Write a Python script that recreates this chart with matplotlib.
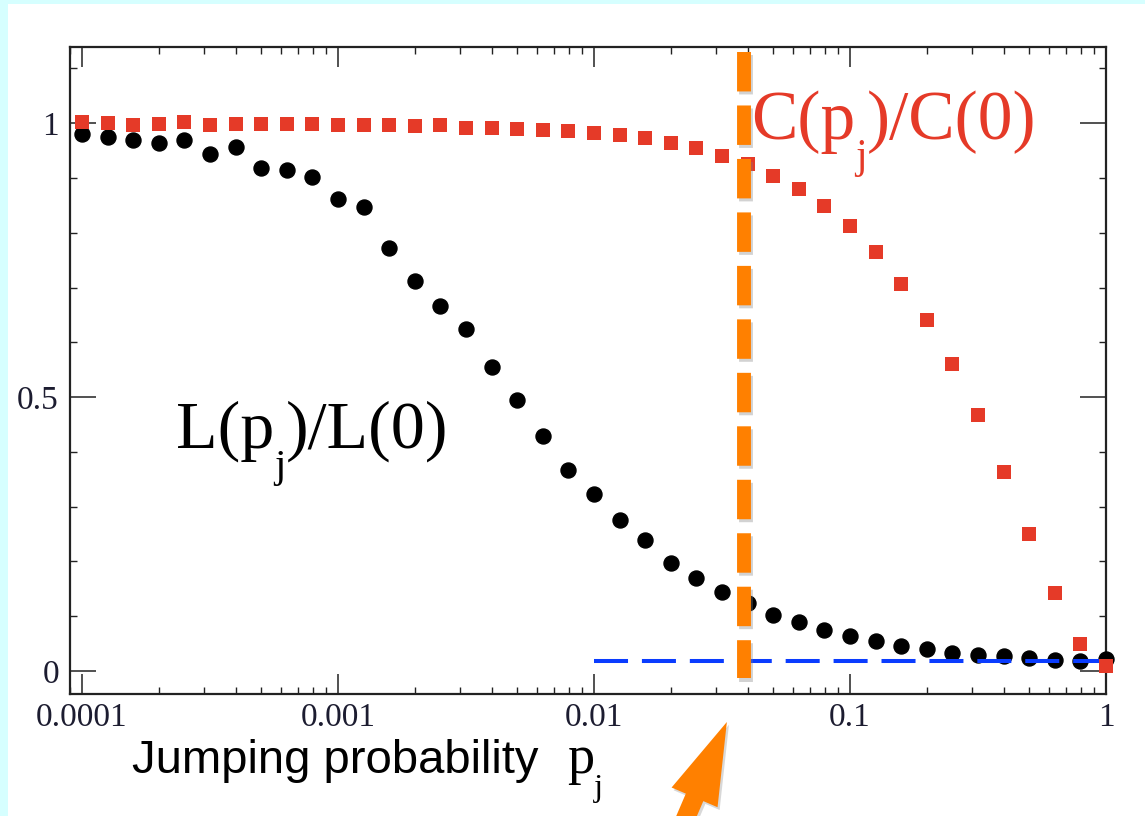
import matplotlib
matplotlib.use("Agg")
import matplotlib.pyplot as plt
from matplotlib.ticker import FixedLocator, MultipleLocator, FixedFormatter, NullFormatter, LogLocator
from matplotlib.patches import Rectangle, FancyArrow
from matplotlib.transforms import IdentityTransform
import matplotlib.patheffects as pe

plt.rcParams["lines.scale_dashes"] = False

# jumping probability p_j (ten points per decade)
p_j = [1.00e-4, 1.26e-4, 1.58e-4, 2.00e-4, 2.51e-4, 3.16e-4, 3.98e-4, 5.01e-4, 6.31e-4, 7.94e-4,
       1.00e-3, 1.26e-3, 1.58e-3, 2.00e-3, 2.51e-3, 3.16e-3, 3.98e-3, 5.01e-3, 6.31e-3, 7.94e-3,
       1.00e-2, 1.26e-2, 1.58e-2, 2.00e-2, 2.51e-2, 3.16e-2, 3.98e-2, 5.01e-2, 6.31e-2, 7.94e-2,
       1.00e-1, 1.26e-1, 1.58e-1, 2.00e-1, 2.51e-1, 3.16e-1, 3.98e-1, 5.01e-1, 6.31e-1, 7.94e-1,
       1.00]

# normalised path length L(p_j)/L(0)
L_ratio = [0.981, 0.975, 0.970, 0.964, 0.970, 0.943, 0.956, 0.918, 0.914, 0.901,
           0.861, 0.847, 0.772, 0.711, 0.666, 0.624, 0.554, 0.494, 0.429, 0.366,
           0.323, 0.276, 0.240, 0.198, 0.169, 0.144, 0.125, 0.102, 0.090, 0.075,
           0.064, 0.055, 0.046, 0.040, 0.033, 0.030, 0.027, 0.023, 0.020, 0.019,
           0.021]

# normalised clustering C(p_j)/C(0)
C_ratio = [1.002, 1.000, 0.996, 0.999, 1.002, 0.997, 0.999, 0.999, 0.999, 0.998,
           0.996, 0.996, 0.996, 0.995, 0.996, 0.992, 0.992, 0.990, 0.987, 0.986,
           0.982, 0.978, 0.972, 0.963, 0.954, 0.940, 0.925, 0.903, 0.879, 0.849,
           0.812, 0.764, 0.707, 0.641, 0.561, 0.467, 0.364, 0.250, 0.142, 0.049,
           0.009]

# random-graph reference level and the marked crossover probability
random_level_x = [0.01, 1.0]
random_level_y = [0.018, 0.018]
p_cut = 0.0385

x_ticks = [1e-4, 1e-3, 1e-2, 1e-1, 1.0]
x_tick_labels = ["0.0001", "0.001", "0.01", "0.1", "1"]
y_ticks = [0.0, 0.5, 1.0]
y_tick_labels = ["0", "0.5", "1"]

W, H = 1145, 816
fig = plt.figure(figsize=(W / 100, H / 100), dpi=100, facecolor="#d6ffff")
fig.patches.append(Rectangle((8 / W, 0), 1 - 8 / W, 1 - 4 / H, transform=fig.transFigure,
                             facecolor="white", edgecolor="none", zorder=-10))

ax = fig.add_axes([70 / W, 1 - 694 / H, (1106 - 70) / W, (694 - 47) / H])
ax.set_facecolor("white")
ax.set_xscale("log")
ax.set_xlim(8.98e-5, 1.0)
ax.set_ylim(-0.042, 1.139)

ax.plot(p_j, L_ratio, linestyle="none", marker="o", markersize=10.8,
        color="black", zorder=3, clip_on=False)
ax.plot(random_level_x, random_level_y, color="#0a3cff", linewidth=2.9,
        dashes=(24.5, 10), solid_capstyle="butt", dash_capstyle="butt", zorder=4)
ax.plot(p_j, C_ratio, linestyle="none", marker="s", markersize=9.6,
        color="#e53a28", markeredgewidth=0, zorder=5, clip_on=False)

# vertical marker of the crossover probability
ax.plot([p_cut, p_cut], [1.130, -0.013], color="#ff8000", linewidth=10,
        dashes=(28.4, 10.1), dash_capstyle="butt", zorder=6, clip_on=False,
        path_effects=[pe.SimpleLineShadow(offset=(1.5, -2.5), shadow_color="#808080", alpha=0.35),
                      pe.Normal()])

# axis styling
serif = "Liberation Serif"
for s in ax.spines.values():
    s.set_linewidth(1.6)
    s.set_color("#222222")
ax.xaxis.set_major_locator(FixedLocator(x_ticks))
ax.xaxis.set_major_formatter(FixedFormatter(x_tick_labels))
ax.xaxis.set_minor_locator(LogLocator(base=10, subs=[2, 3, 4, 5, 6, 7, 8, 9], numticks=20))
ax.xaxis.set_minor_formatter(NullFormatter())
ax.yaxis.set_major_locator(FixedLocator(y_ticks))
ax.yaxis.set_major_formatter(FixedFormatter(y_tick_labels))
ax.yaxis.set_minor_locator(MultipleLocator(0.1))
ax.tick_params(which="both", direction="in", top=True, right=True, color="#222222")
ax.tick_params(axis="x", which="major", length=14.5, width=1.1, pad=6)
ax.tick_params(axis="y", which="major", length=18.5, width=1.1, pad=8)
ax.tick_params(which="minor", length=5, width=1.0)
for lab in ax.get_xticklabels() + ax.get_yticklabels():
    lab.set_fontfamily(serif)
    lab.set_fontsize(24)
    lab.set_color("#1c1c30")

renderer = fig.canvas.get_renderer()


def subscripted(x_px, base_px, head, sub, tail, size, color, drop=0.42, sub_scale=0.6):
    """Write head + lowered subscript + tail, positioned in pixels from the top-left."""
    y = H - base_px
    t1 = fig.text(x_px / W, y / H, head, family=serif, fontsize=size, color=color,
                  ha="left", va="baseline", zorder=7)
    x = t1.get_window_extent(renderer).x1
    drop_px = drop * size * 100 / 72
    t2 = fig.text(x / W, (y - drop_px) / H, sub, family=serif, fontsize=size * sub_scale,
                  color=color, ha="left", va="baseline", zorder=7)
    x = t2.get_window_extent(renderer).x1
    if tail:
        fig.text(x / W, y / H, tail, family=serif, fontsize=size, color=color,
                 ha="left", va="baseline", zorder=7)


# curve labels
subscripted(176, 448, "L(p", "j", ")/L(0)", 49, "black")
subscripted(751, 139, "C(p", "j", ")/C(0)", 50, "#e53a28")

# x axis title
fig.text(132 / W, 1 - 773 / H, "Jumping probability", family="Liberation Sans",
         fontsize=34, color="black", ha="left", va="baseline")
subscripted(567, 773, "p", "j", "", 39, "black")

# arrow pointing at the crossover probability
cut_x_disp = ax.transData.transform((p_cut, 0.0))[0]
tip = (cut_x_disp - 17, H - 722)
tail = (tip[0] - 48, tip[1] - 112)
arrow = FancyArrow(tail[0], tail[1], tip[0] - tail[0], tip[1] - tail[1], width=19,
                   head_width=50, head_length=82, length_includes_head=True,
                   color="#ff8000", linewidth=0, transform=IdentityTransform(),
                   path_effects=[pe.SimplePatchShadow(offset=(1.5, -2), shadow_rgbFace="#808080", alpha=0.3),
                                 pe.Normal()])
fig.add_artist(arrow)

fig.savefig("out.png", dpi=100, facecolor=fig.get_facecolor())
